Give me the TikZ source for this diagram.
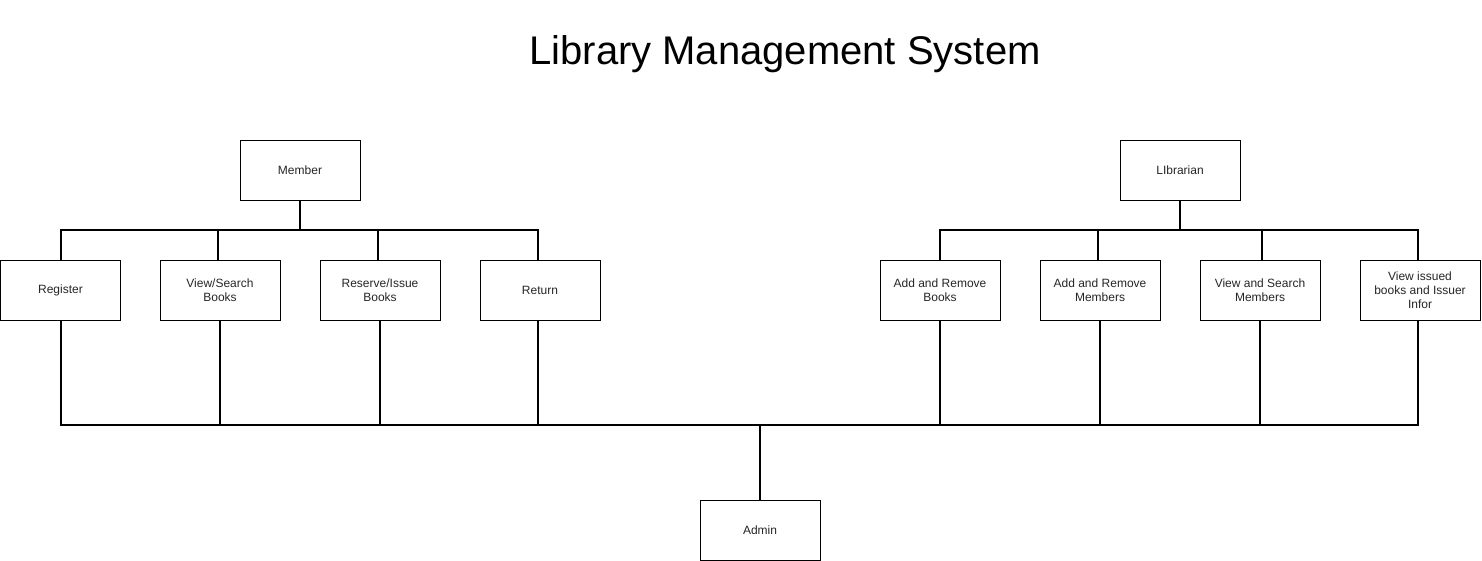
\documentclass[tikz,border=0pt]{standalone}
\usepackage{fontspec}
\setmainfont{Liberation Sans}
\begin{document}
\begin{tikzpicture}[x=1pt,y=-1pt,
  box/.style={draw=black,line width=1pt,minimum width=120pt,minimum height=60pt,inner sep=0pt,
    align=center,font=\fontsize{12}{14}\selectfont,text=black!85},
  wire/.style={draw=black,line width=2pt}]
\useasboundingbox (0,0) rectangle (1482,561);
\fill[white] (0,0) rectangle (1482,561);
\node[font=\fontsize{40}{46}\selectfont] (title) at (785,54) {Library Management System};
\node[box] (member) at (300,170.5) {Member};
\node[box] (librarian) at (1180,170.5) {LIbrarian};
\node[box] (register) at (60.5,290.5) {Register};
\node[box] (view) at (220,290.5) {View/Search\\Books};
\node[box] (reserve) at (380,290.5) {Reserve/Issue\\Books};
\node[box] (return) at (540,290.5) {Return};
\node[box] (addbooks) at (940,290.5) {Add and Remove\\Books};
\node[box] (addmembers) at (1100,290.5) {Add and Remove\\Members};
\node[box] (viewmembers) at (1260,290.5) {View and Search\\Members};
\node[box] (issued) at (1420,290.5) {View issued\\books and Issuer\\Infor};
\node[box] (admin) at (760,530.5) {Admin};
% top buses
\coordinate (mj) at (300,230);
\coordinate (lj) at (1180,230);
\draw[wire] (member.south) -- (mj);
\draw[wire] (mj) -| ([xshift=0.5pt]register.north);
\draw[wire] (mj) -| ([xshift=-2pt]view.north);
\draw[wire] (mj) -| ([xshift=-2pt]reserve.north);
\draw[wire] (mj) -| ([xshift=-2pt]return.north);
\draw[wire] (librarian.south) -- (lj);
\draw[wire] (lj) -| (addbooks.north);
\draw[wire] (lj) -| ([xshift=-2pt]addmembers.north);
\draw[wire] (lj) -| ([xshift=2pt]viewmembers.north);
\draw[wire] (lj) -| ([xshift=-2pt]issued.north);
% bottom bus
\coordinate (bj) at (760,425);
\draw[wire] (admin.north) -- (bj);
\draw[wire] (bj) -| (register.south);
\draw[wire] (bj) -| (view.south);
\draw[wire] (bj) -| (reserve.south);
\draw[wire] (bj) -| ([xshift=-2pt]return.south);
\draw[wire] (bj) -| (addbooks.south);
\draw[wire] (bj) -| (addmembers.south);
\draw[wire] (bj) -| (viewmembers.south);
\draw[wire] (bj) -| ([xshift=-2pt]issued.south);
\end{tikzpicture}
\end{document}
